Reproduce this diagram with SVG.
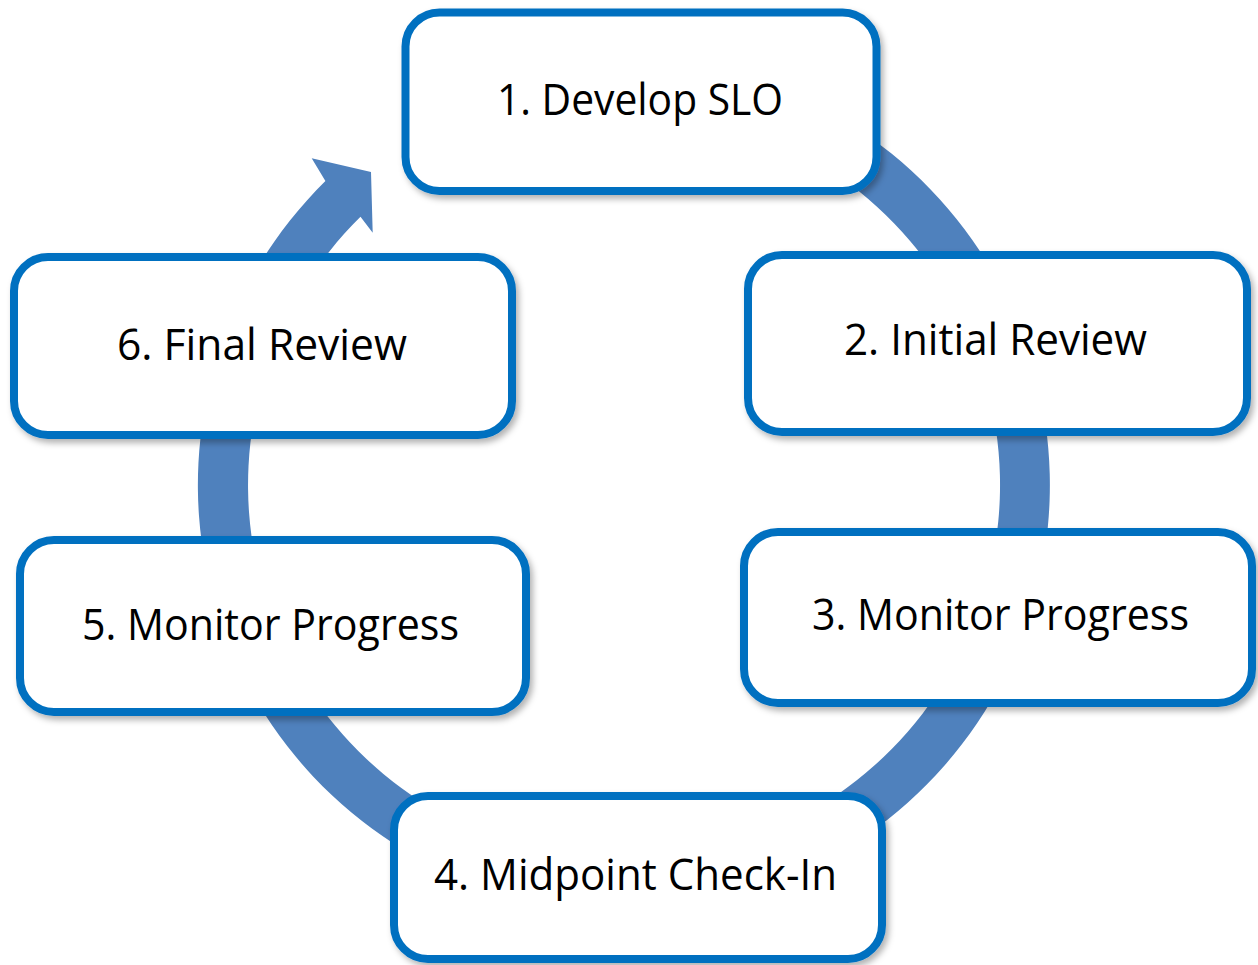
<svg xmlns="http://www.w3.org/2000/svg" width="1258" height="965" viewBox="0 0 1258 965">
  <style>
    .box { fill: #ffffff; stroke: #0070C0; stroke-width: 8; filter: url(#shadow); }
    .label { font-family: "Open Sans", "Liberation Sans", sans-serif; font-size: 44px; fill: #000000; }
    .ring { fill: #4F81BD; }
  </style>
  <defs>
    <filter id="shadow" x="-10%" y="-10%" width="125%" height="130%">
      <feDropShadow dx="3" dy="4" stdDeviation="3" flood-color="#000000" flood-opacity="0.3"/>
    </filter>
  </defs>

  <rect width="1258" height="965" fill="#ffffff"/>

  <!-- circular cycle arrow, centre (624,485), band radii 376..426 -->
  <g id="connectors">
    <path class="ring" d="M 443.96 98.91 A 426 426 0 1 1 325.4 181.1 L 311.7 158.2 L 371 172 L 372.7 232.8 L 360.5 216.8 A 376 376 0 1 0 465.1 144.23 Z"/>
  </g>

  <g id="step1">
    <rect class="box" x="405.5" y="12.5" width="471" height="178.5" rx="34" ry="34"/>
    <text class="label" x="497" y="115" textLength="286" lengthAdjust="spacingAndGlyphs">1. Develop SLO</text>
  </g>

  <g id="step2">
    <rect class="box" x="748" y="255" width="499" height="177" rx="34" ry="34"/>
    <text class="label" x="844" y="355" textLength="303" lengthAdjust="spacingAndGlyphs">2. Initial Review</text>
  </g>

  <g id="step3">
    <rect class="box" x="744" y="532" width="508" height="171" rx="34" ry="34"/>
    <text class="label" x="812" y="630" textLength="377" lengthAdjust="spacingAndGlyphs">3. Monitor Progress</text>
  </g>

  <g id="step4">
    <rect class="box" x="394" y="796" width="488" height="163" rx="34" ry="34"/>
    <text class="label" x="434" y="890" textLength="403" lengthAdjust="spacingAndGlyphs">4. Midpoint Check-In</text>
  </g>

  <g id="step5">
    <rect class="box" x="20" y="540" width="506" height="172" rx="34" ry="34"/>
    <text class="label" x="82" y="640" textLength="377" lengthAdjust="spacingAndGlyphs">5. Monitor Progress</text>
  </g>

  <g id="step6">
    <rect class="box" x="14" y="257" width="498" height="178" rx="34" ry="34"/>
    <text class="label" x="117" y="360" textLength="290" lengthAdjust="spacingAndGlyphs">6. Final Review</text>
  </g>
</svg>
